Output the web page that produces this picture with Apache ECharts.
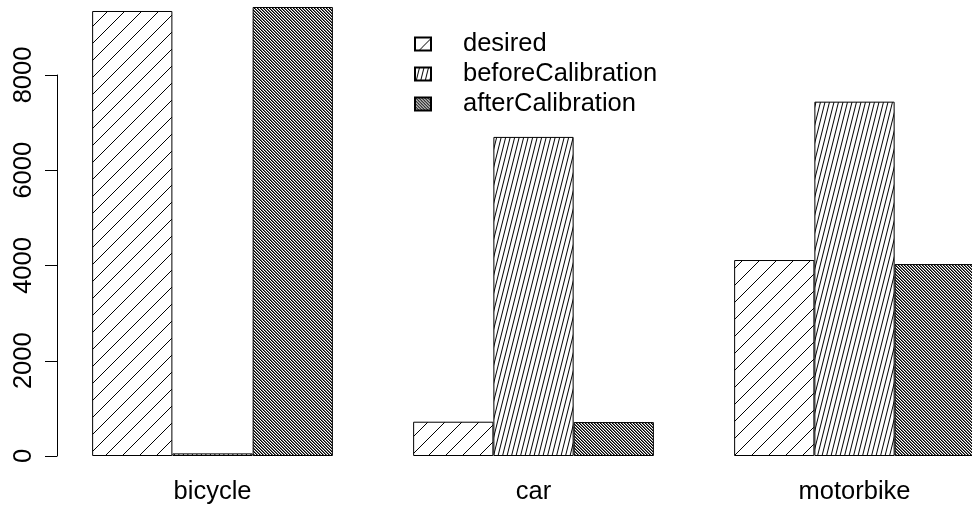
<!DOCTYPE html>
<html>
<head>
<meta charset="utf-8">
<script src="https://cdn.jsdelivr.net/npm/echarts@6/dist/echarts.min.js"></script>
<style>
  html, body { margin: 0; padding: 0; background: #fff; overflow: hidden; }
  /* last group runs past the right edge in the original, so the canvas is wider than the window */
  #chart { width: 1020px; height: 507px; }
</style>
</head>
<body>
<div id="chart"></div>
<script>
  // data
  const categories = ['bicycle', 'car', 'motorbike'];
  const desired = [9344, 720, 4115];
  const beforeCalibration = [55, 6700, 7440];
  const afterCalibration = [9428, 712, 4030];
  const seriesNames = ['desired', 'beforeCalibration', 'afterCalibration'];

  const FONT = '"Liberation Sans", Arial, Helvetica, sans-serif';

  // hatch tile: lines of horizontal run dx over the tile height
  function hatch(w, h, dx, starts) {
    const c = document.createElement('canvas');
    c.width = w;
    c.height = h;
    const ctx = c.getContext('2d');
    ctx.fillStyle = '#fff';
    ctx.fillRect(0, 0, w, h);
    ctx.strokeStyle = '#000';
    ctx.lineWidth = 1;
    ctx.beginPath();
    for (let x of starts) {
      ctx.moveTo(x, h);
      ctx.lineTo(x + dx, 0);
    }
    ctx.stroke();
    return { image: c, repeat: 'repeat' };
  }

  // dense "\" hatch, set pixel by pixel so it stays crisp
  function denseBack() {
    const c = document.createElement('canvas');
    c.width = 6;
    c.height = 6;
    const ctx = c.getContext('2d');
    const cols = ['#000', '#6a6a6a', '#fff'];
    for (let y = 0; y < 6; y++) {
      for (let x = 0; x < 6; x++) {
        ctx.fillStyle = cols[((x - y) % 3 + 3) % 3];
        ctx.fillRect(x, y, 1, 1);
      }
    }
    return { image: c, repeat: 'repeat' };
  }

  const patDesired = hatch(17, 17, 17, [-17, 0, 17]);
  const patBefore = hatch(9, 36, 9, [-9, -4.5, 0, 4.5, 9]);
  const patAfter = denseBack();

  function bar(name, data, pattern) {
    return {
      name: name,
      type: 'bar',
      xAxisIndex: 0,
      yAxisIndex: 0,
      data: data,
      barGap: 0,
      barCategoryGap: '25%',
      itemStyle: {
        color: pattern,
        borderColor: '#000',
        borderWidth: 1
      },
      emphasis: { disabled: true }
    };
  }

  const myChart = echarts.init(document.getElementById('chart'));
  myChart.setOption({
    animation: false,
    backgroundColor: '#fff',
    textStyle: { fontFamily: FONT },
    legend: {
      orient: 'vertical',
      left: 409,
      top: 26,
      itemWidth: 16,
      itemHeight: 13,
      itemGap: 4,
      icon: 'rect',
      data: seriesNames,
      textStyle: {
        fontFamily: FONT,
        fontSize: 25.5,
        color: '#000',
        padding: [0, 0, 0, 27]
      }
    },
    grid: [
      { left: 52, width: 963, top: 3.56, bottom: 51 },
      { left: 57, width: 10, top: 75, bottom: 51 }
    ],
    xAxis: [
      {
        gridIndex: 0,
        type: 'category',
        data: categories,
        axisLine: { show: false },
        axisTick: { show: false },
        axisLabel: {
          color: '#000',
          fontFamily: FONT,
          fontSize: 25.5,
          margin: 23
        }
      },
      { gridIndex: 1, type: 'value', show: false }
    ],
    yAxis: [
      {
        gridIndex: 0,
        type: 'value',
        min: 0,
        max: 9500,
        show: false
      },
      {
        gridIndex: 1,
        type: 'value',
        min: 0,
        max: 8000,
        interval: 2000,
        axisLine: { show: true, lineStyle: { color: '#000', width: 1 } },
        axisTick: { show: true, length: 12, lineStyle: { color: '#000', width: 1 } },
        splitLine: { show: false },
        axisLabel: {
          color: '#000',
          fontFamily: FONT,
          fontSize: 25.5,
          rotate: 90,
          margin: 20,
          formatter: function (v) { return String(v); }
        }
      }
    ],
    series: [
      bar(seriesNames[0], desired, patDesired),
      bar(seriesNames[1], beforeCalibration, patBefore),
      bar(seriesNames[2], afterCalibration, patAfter)
    ]
  });
</script>
</body>
</html>
